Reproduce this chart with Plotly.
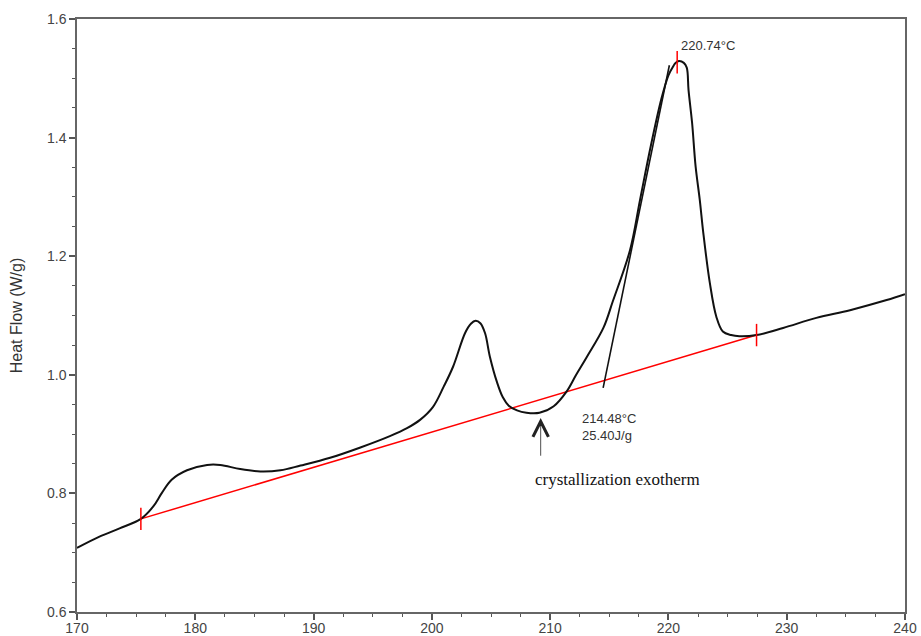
import plotly.graph_objects as go

# DSC curve (temperature in °C, heat flow in W/g)
temp = [170, 171.9, 173.6, 175.4, 176.45, 177.15, 178.0, 179.3, 181.0, 182.1, 183.8, 185.5,
        187.2, 188.9, 191.4, 193.9, 196.5, 197.9, 199.0, 200.1, 201.0, 201.8, 202.8, 203.3,
        203.7, 204.1, 204.5, 204.9, 205.5, 206.0, 206.5, 207.2, 208.0, 209.1, 210.3, 211.4,
        212.2, 213.1, 214.5, 215.3, 216.75, 217.6, 218.5, 219.4, 220.0, 220.4, 220.6, 220.9,
        221.3, 221.55, 221.7, 222.0, 222.3, 222.65, 222.95, 223.5, 224.05, 224.6, 225.3,
        226.0, 227.45, 229.7, 232.5, 235.35, 238.45, 240]
heat_flow = [0.708, 0.727, 0.741, 0.757, 0.778, 0.800, 0.823, 0.839, 0.848, 0.848, 0.841, 0.837,
             0.839, 0.847, 0.860, 0.877, 0.897, 0.910, 0.924, 0.946, 0.980, 1.014, 1.070, 1.086,
             1.091, 1.087, 1.070, 1.031, 0.988, 0.962, 0.948, 0.940, 0.936, 0.936, 0.947, 0.972,
             1.000, 1.030, 1.079, 1.124, 1.210, 1.295, 1.385, 1.465, 1.505, 1.520, 1.526, 1.529,
             1.526, 1.518, 1.480, 1.425, 1.351, 1.295, 1.239, 1.155, 1.098, 1.073, 1.067,
             1.065, 1.067, 1.079, 1.096, 1.109, 1.126, 1.136]

# integration baseline (red) end points
base_x = [175.4, 227.45]
base_y = [0.757, 1.067]

# onset tangent
tan_x = [214.48, 220.08]
tan_y = [0.978, 1.522]

# red marker ticks
tick_x = [175.4, 227.45, 220.74]
tick_y = [0.757, 1.067, 1.527]

onset_label = "214.48°C<br>25.40J/g"
peak_label = "220.74°C"
note_label = "crystallization exotherm"

fig = go.Figure()
fig.add_trace(go.Scatter(x=base_x, y=base_y, mode="lines",
                         line=dict(color="#ff0000", width=1.5), hoverinfo="skip"))
fig.add_trace(go.Scatter(x=temp, y=heat_flow, mode="lines",
                         line=dict(color="#111111", width=2, shape="spline", smoothing=1.0)))
fig.add_trace(go.Scatter(x=tan_x, y=tan_y, mode="lines",
                         line=dict(color="#111111", width=1.6)))
fig.add_trace(go.Scatter(x=tick_x, y=tick_y, mode="markers",
                         marker=dict(symbol="line-ns", size=16,
                                     line=dict(color="#ff0000", width=1.5))))

fig.add_annotation(x=220.89, y=1.556, text=peak_label, showarrow=False,
                   xanchor="left", yanchor="middle",
                   font=dict(family="Liberation Sans, Arial", size=13, color="#333333"))
fig.add_annotation(x=212.52, y=0.912, text=onset_label, showarrow=False,
                   xanchor="left", yanchor="middle", align="left",
                   font=dict(family="Liberation Sans, Arial", size=13, color="#333333"))
fig.add_annotation(x=209.2, y=0.927, ax=209.2, ay=0.861, axref="x", ayref="y",
                   text="", showarrow=True, arrowhead=5, arrowsize=3.8, arrowwidth=0.8,
                   arrowcolor="#222222")
fig.add_annotation(x=215.73, y=0.824, text=note_label, showarrow=False,
                   xanchor="center", yanchor="middle",
                   font=dict(family="Liberation Serif, Times New Roman", size=17, color="#111111"))

axis_common = dict(showgrid=False, zeroline=False, showline=True, mirror=True,
                   linecolor="#666666", linewidth=1.5, ticks="outside", ticklen=6,
                   tickwidth=1.5, tickcolor="#555555",
                   tickfont=dict(family="Liberation Sans, Arial", size=14, color="#444444"))

fig.update_xaxes(range=[170, 240], dtick=10, tick0=170, ticklabelstandoff=-4,
                 minor=dict(dtick=2.5, ticks="outside", ticklen=3, tickcolor="#555555", tickwidth=1.2),
                 **axis_common)
fig.update_yaxes(range=[0.6, 1.6], dtick=0.2, tick0=0.6, tickformat=".1f",
                 minor=dict(dtick=0.05, ticks="outside", ticklen=3, tickcolor="#555555", tickwidth=1.2),
                 title=dict(text="Heat Flow (W/g)", standoff=20,
                            font=dict(family="Liberation Sans, Arial", size=16, color="#333333")),
                 **axis_common)

fig.update_layout(width=921, height=636, showlegend=False,
                  margin=dict(l=77, r=16, t=19, b=24, autoexpand=False),
                  plot_bgcolor="white", paper_bgcolor="white")

fig.write_html("out.html")
